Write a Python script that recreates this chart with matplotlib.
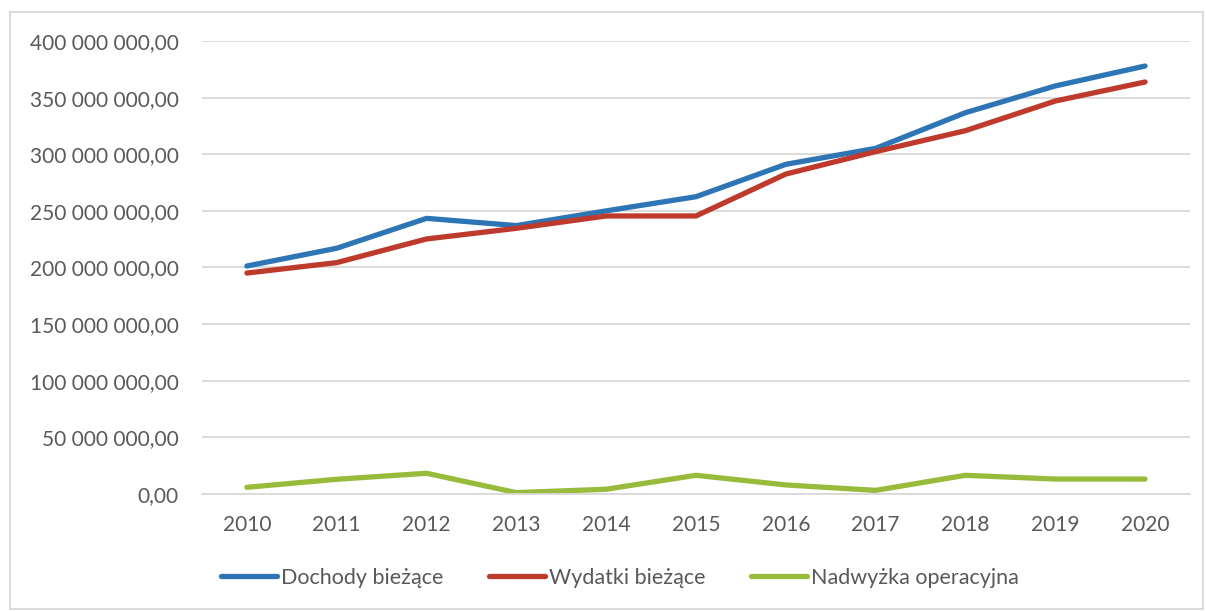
import matplotlib
matplotlib.use("Agg")
import matplotlib.pyplot as plt
from matplotlib.ticker import FuncFormatter, MultipleLocator
from matplotlib.patches import Rectangle

# dane (zł)
lata = ["2010", "2011", "2012", "2013", "2014", "2015", "2016", "2017", "2018", "2019", "2020"]
dochody = [201.3e6, 217.0e6, 243.4e6, 237.0e6, 250.0e6, 262.5e6, 291.1e6, 305.2e6, 336.7e6, 360.3e6, 377.9e6]
wydatki = [195.1e6, 204.3e6, 225.2e6, 234.6e6, 245.5e6, 245.5e6, 282.5e6, 302.3e6, 320.8e6, 347.0e6, 363.8e6]
nadwyzka = [5.9e6, 13.0e6, 18.3e6, 1.2e6, 4.2e6, 16.5e6, 8.0e6, 3.2e6, 16.5e6, 13.2e6, 13.2e6]

plt.rcParams['font.family'] = ['Lato', 'DejaVu Sans']
szary = '#595959'

fig = plt.figure(figsize=(12.06, 6.11), dpi=100)
ax = fig.add_axes([0.1675, 0.1915, 0.8192, 0.7414])

x = range(len(lata))
ax.plot(x, dochody, color='#2E75B6', lw=3.8, solid_capstyle='round', label='Dochody bieżące')
ax.plot(x, wydatki, color='#BE3A2D', lw=3.8, solid_capstyle='round', label='Wydatki bieżące')
ax.plot(x, nadwyzka, color='#98BB3C', lw=3.8, solid_capstyle='round', label='Nadwyżka operacyjna')

ax.set_xlim(-0.5, len(lata) - 0.5)
ax.set_ylim(0, 400e6)
ax.yaxis.set_major_locator(MultipleLocator(50e6))

def fmt(v, pos):
    return f"{v:,.2f}".replace(",", " ").replace(".", ",")

ax.yaxis.set_major_formatter(FuncFormatter(fmt))
ax.set_xticks(list(x))
ax.set_xticklabels(lata)
ax.tick_params(axis='both', length=0, labelsize=15, colors=szary)
ax.tick_params(axis='x', pad=15)
ax.tick_params(axis='y', pad=17)

ax.grid(axis='y', color='#D9D9D9', lw=1.3)
ax.set_axisbelow(True)
for s in ['top', 'right', 'left']:
    ax.spines[s].set_visible(False)
ax.spines['bottom'].set_color('#D9D9D9')
ax.spines['bottom'].set_linewidth(1.3)

fig.legend(loc='center', bbox_to_anchor=(0.514, 0.054), ncol=3, frameon=False,
           fontsize=15.5, labelcolor=szary, handlelength=2.6, handletextpad=0.2,
           columnspacing=2.1)

# ramka wykresu
fig.patches.append(Rectangle((10 / 1206, 2 / 611), 1193 / 1206, 597 / 611,
                             transform=fig.transFigure, fill=False,
                             edgecolor='#D9D9D9', lw=1.3))

fig.savefig('out.png', dpi=100)
